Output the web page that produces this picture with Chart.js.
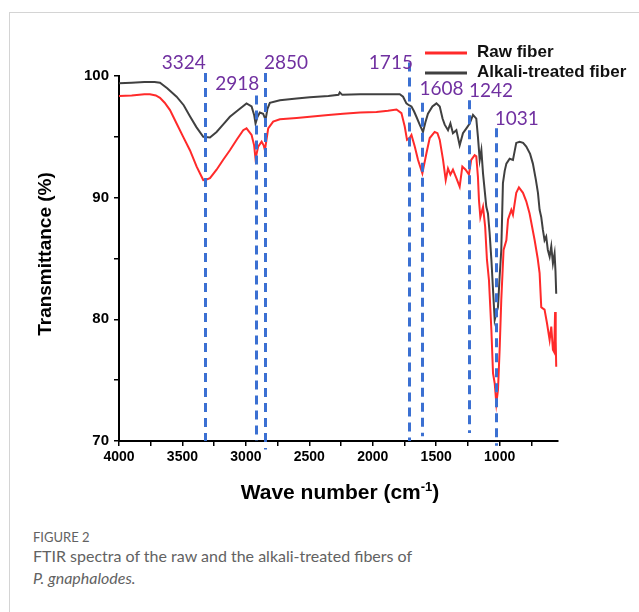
<!DOCTYPE html>
<html>
<head>
<meta charset="utf-8">
<script src="https://cdn.jsdelivr.net/npm/chart.js@4.4.1/dist/chart.umd.min.js"></script>
<style>
  html, body { margin: 0; padding: 0; background: #fff; }
  body { width: 639px; height: 612px; position: relative; overflow: hidden; }
  .frame { position: absolute; left: 9px; top: 12px; right: -2px; bottom: -2px;
           border-top: 1.5px solid #d4d4d4; border-left: 1.5px solid #d4d4d4; }
  #wrap { position: absolute; left: 0; top: 0; width: 639px; height: 520px; }
  .cap { position: absolute; left: 33px; color: #626262; font-family: Lato, "Open Sans", sans-serif; white-space: nowrap; }
  .fig { top: 529px; font-size: 13px; line-height: 16px; font-weight: 400; }
  .l2 { top: 545px; font-size: 16px; line-height: 22px; font-weight: 400; }
  .l3 { top: 567px; font-size: 16px; line-height: 22px; font-style: italic; font-weight: 400; }
</style>
</head>
<body>
<div class="frame"></div>
<div id="wrap"><canvas id="c" width="639" height="520"></canvas></div>
<div class="cap fig">FIGURE 2</div>
<div class="cap l2">FTIR spectra of the raw and the alkali-treated fibers of</div>
<div class="cap l3">P. gnaphalodes.</div>
<script>
// ---- data (wave number in cm-1, transmittance in %) ----
const seriesNames = ["Raw fiber", "Alkali-treated fiber"];

const rawWn = [4000,3900,3800,3756,3710,3677,3640,3598,3546,3494,3441,3388,3336,3310,3283,3231,3180,3126,3070,3021,2995,2955,2935,2924,2903,2876,2860,2850,2824,2785,2732,2600,2496,2350,2234,2100,1971,1880,1813,1774,1748,1730,1710,1695,1669,1643,1609,1577,1551,1512,1490,1472,1446,1425,1407,1388,1368,1341,1315,1294,1268,1242,1224,1197,1184,1171,1163,1152,1131,1114,1100,1084,1065,1052,1039,1026,1013,1000,987,969,947,934,908,895,869,848,816,790,764,724,700,685,672,660,646,627,606,593,580,570,563,558,554];
const rawT  = [98.35,98.4,98.5,98.5,98.4,98.2,97.8,97.2,96.1,95.0,93.9,92.55,91.45,91.5,91.6,92.3,93.1,93.9,94.8,95.55,95.7,95.15,94.3,93.2,94.2,94.6,94.3,93.9,95.7,96.25,96.45,96.55,96.65,96.8,96.9,97.0,97.05,97.15,97.25,96.95,95.85,94.75,94.9,95.15,94.2,93.1,92.0,93.65,94.9,95.4,95.3,94.75,93.1,91.45,92.4,91.9,92.3,91.6,90.9,92.55,92.3,91.9,93.1,93.5,93.4,91.7,89.8,88.4,89.25,87.6,84.9,83.2,79.1,75.55,74.75,73.1,74.2,77.5,81.6,85.7,86.5,88.2,89.0,88.6,90.4,90.85,90.4,89.7,88.7,86.5,85.0,83.8,81.0,80.9,80.8,79.7,78.3,79.4,77.5,77.3,80.6,78.2,76.1];

const alkWn = [4000,3900,3800,3720,3677,3620,3546,3490,3441,3390,3336,3283,3231,3180,3126,3060,2995,2955,2935,2924,2910,2890,2864,2845,2830,2811,2732,2600,2496,2350,2270,2260,2240,2100,1971,1850,1787,1761,1735,1715,1695,1675,1656,1630,1604,1585,1565,1530,1498,1472,1450,1433,1407,1388,1368,1341,1315,1289,1262,1236,1210,1184,1171,1157,1144,1131,1105,1092,1079,1065,1052,1039,1026,1013,1000,987,974,960,947,921,895,869,843,815,790,760,738,715,698,685,672,659,646,633,620,606,593,580,567,560,554];
const alkT  = [99.4,99.45,99.5,99.5,99.45,99.0,98.3,97.6,96.7,95.8,95.0,94.95,95.4,96.0,96.65,97.2,97.75,97.5,96.8,96.1,96.6,97.0,96.9,96.4,97.3,97.8,98.0,98.15,98.25,98.35,98.45,98.65,98.45,98.5,98.5,98.5,98.5,98.3,97.75,97.6,97.5,97.1,96.65,96.0,95.4,96.2,96.9,97.5,97.75,97.5,96.5,96.0,95.55,96.1,95.3,95.55,94.3,95.3,95.7,96.1,96.8,96.5,95.0,93.1,93.9,92.0,89.25,88.7,87.1,84.9,82.4,79.95,80.5,81.0,83.5,85.7,91.2,92.2,92.8,93.2,93.1,94.5,94.6,94.5,94.2,93.6,92.8,91.5,90.4,89.0,88.4,87.35,86.5,86.8,85.7,85.15,86.0,84.6,85.4,84.0,82.1];

// marked peaks (cm-1)
const peakWn = [3324, 2918, 2850, 1715, 1608, 1242, 1031];
// axis ticks
const xTickValues = [4000,3750,3500,3250,3000,2750,2500,2250,2000,1750,1500,1250,1000,750];
const yTickValues = [70,75,80,85,90,95,100];

// ---- styling / annotation geometry (kept separate from data) ----
const peakLineTop    = [100.25, 98.4, 100.25, 101.1, 97.8, 98.0, 95.7];
const peakLineBottom = [70, 70, 69.3, 70, 70.4, 70.65, 69.6];
const peakLabelY     = [100.57, 98.85, 100.57, 100.57, 98.44, 98.3, 95.97];
const peakLabelAlign = ['right','right','left','right','left','left','left'];
const peakLabelDx    = [1, 3, -1, 4, -3, 0, -1];

const toXY = (xs, ys) => xs.map((x, i) => ({x: x, y: ys[i]}));

const overlay = {
  id: 'overlay',
  afterDatasetsDraw(chart) {
    const ctx = chart.ctx, xs = chart.scales.x, ys = chart.scales.y;
    ctx.save();
    // dashed peak lines
    ctx.strokeStyle = '#3b70d2';
    ctx.lineWidth = 3;
    ctx.setLineDash([9, 6]);
    peakWn.forEach((w, i) => {
      const px = Math.round(xs.getPixelForValue(w)) + 0.5;
      ctx.beginPath();
      ctx.moveTo(px, ys.getPixelForValue(peakLineTop[i]));
      ctx.lineTo(px, ys.getPixelForValue(peakLineBottom[i]));
      ctx.stroke();
    });
    ctx.setLineDash([]);
    // peak labels
    ctx.fillStyle = '#7030a0';
    ctx.font = '19px Lato, "Open Sans", sans-serif';
    ctx.textBaseline = 'alphabetic';
    peakWn.forEach((w, i) => {
      ctx.textAlign = peakLabelAlign[i];
      ctx.fillText(String(w), xs.getPixelForValue(w) + peakLabelDx[i], ys.getPixelForValue(peakLabelY[i]));
    });
    // legend
    const legY = [53, 73];
    chart.data.datasets.forEach((ds, i) => {
      ctx.strokeStyle = ds.borderColor;
      ctx.lineWidth = 3;
      ctx.beginPath();
      ctx.moveTo(425, legY[i]);
      ctx.lineTo(467, legY[i]);
      ctx.stroke();
      ctx.fillStyle = '#111';
      ctx.font = 'bold 17px "Liberation Sans", Arial, sans-serif';
      ctx.textAlign = 'left';
      ctx.textBaseline = 'middle';
      ctx.fillText(ds.label, 477, legY[i] - 1);
    });
    // axis titles
    ctx.fillStyle = '#000';
    ctx.save();
    ctx.translate(46, 254);
    ctx.rotate(-Math.PI / 2);
    ctx.font = 'bold 19px "Liberation Sans", Arial, sans-serif';
    ctx.textAlign = 'center';
    ctx.textBaseline = 'middle';
    ctx.fillText('Transmittance (%)', 0, 0);
    ctx.restore();
    // x title with superscript
    const main = 'Wave number (cm', sup = '-1', close = ')';
    ctx.textBaseline = 'alphabetic';
    ctx.textAlign = 'left';
    const fBig = 'bold 21px "Liberation Sans", Arial, sans-serif';
    const fSup = 'bold 13px "Liberation Sans", Arial, sans-serif';
    ctx.font = fBig; const w1 = ctx.measureText(main).width, w3 = ctx.measureText(close).width;
    ctx.font = fSup; const w2 = ctx.measureText(sup).width;
    const total = w1 + w2 + w3;
    let sx = 340 - total / 2, by = 499;
    ctx.font = fBig; ctx.fillText(main, sx, by);
    ctx.font = fSup; ctx.fillText(sup, sx + w1, by - 8);
    ctx.font = fBig; ctx.fillText(close, sx + w1 + w2, by);
    ctx.restore();
  }
};

Chart.defaults.font.family = '"Liberation Sans", Arial, sans-serif';

new Chart(document.getElementById('c'), {
  type: 'line',
  data: {
    datasets: [
      { label: seriesNames[0], data: toXY(rawWn, rawT), borderColor: '#ff2a2a', borderWidth: 2, pointRadius: 0, tension: 0, fill: false },
      { label: seriesNames[1], data: toXY(alkWn, alkT), borderColor: '#404040', borderWidth: 2, pointRadius: 0, tension: 0, fill: false }
    ]
  },
  options: {
    responsive: false,
    animation: false,
    devicePixelRatio: 1,
    layout: { padding: { left: 0, top: 76, right: 81, bottom: 0 } },
    plugins: { legend: { display: false }, tooltip: { enabled: false } },
    scales: {
      x: {
        type: 'linear', reverse: true, min: 540, max: 4000,
        afterBuildTicks: s => { s.ticks = xTickValues.map(v => ({ value: v })); },
        afterFit: s => { s.height = 79; },
        ticks: { autoSkip: false, maxRotation: 0, padding: 3, color: '#000',
                 font: { size: 14, weight: 'bold' },
                 callback: v => (v % 500 === 0 ? String(v) : '') },
        grid: { drawOnChartArea: false, drawTicks: true, tickLength: 5, color: '#000', lineWidth: 1.5 },
        border: { display: true, color: '#000', width: 2 }
      },
      y: {
        min: 70, max: 100,
        afterBuildTicks: s => { s.ticks = yTickValues.map(v => ({ value: v })); },
        afterFit: s => { s.width = 119; },
        ticks: { autoSkip: false, padding: 5, color: '#000',
                 font: { size: 15, weight: 'bold' },
                 callback: v => (v % 10 === 0 ? String(v) : '') },
        grid: { drawOnChartArea: false, drawTicks: true, tickLength: 5, color: '#000', lineWidth: 1.5 },
        border: { display: true, color: '#000', width: 2 }
      }
    }
  },
  plugins: [overlay]
});
</script>
</body>
</html>
